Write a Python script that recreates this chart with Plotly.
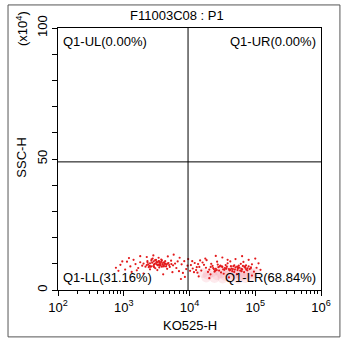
import plotly.graph_objects as go

# ---- data (KO525-H raw values, SSC-H in units of 10^4) ----
ll_x = [2240, 2510, 2820, 3160, 2400, 3550, 3980, 2630, 3020, 3310,
        3800, 4270, 2000, 2140, 2950, 3720, 4470, 4790, 5010, 2750,
        2290, 1910, 1780, 3390, 4070, 5250, 5620, 2510, 3240, 4570,
        1660, 1510, 6030, 6310, 2880, 3630, 2450, 4170, 3470, 3090,
        760, 890, 1050, 1120, 1260, 1320, 1410, 1580, 1200, 950,
        6920, 7590, 8320, 8910, 7080, 7940, 9330, 6610, 5500, 2000,
        3980, 2820, 4680, 8510, 7410, 5750, 2240, 830, 1780, 9550,
        2700, 2950, 3250, 3550, 3900, 4300, 2600, 3100, 3400, 3700,
        4000, 4400, 2850, 3350, 3650, 4150, 2350, 3000, 3500, 4600,
        2550, 3200, 3800, 4900, 2300, 2900, 3450, 4050, 5300, 2650]
ll_y = [9.5, 10.2, 9.1, 10.8, 8.7, 9.8, 10.5, 11.2, 8.3, 9.4,
        8.9, 11.0, 10.1, 8.9, 10.0, 11.6, 9.6, 10.3, 8.8, 12.0,
        11.0, 9.3, 10.6, 12.3, 9.0, 11.2, 9.4, 7.9, 7.6, 8.1,
        8.4, 9.9, 10.1, 8.4, 9.6, 10.2, 9.2, 10.0, 8.6, 11.5,
        8.5, 9.6, 7.8, 10.8, 9.0, 6.9, 11.5, 7.5, 12.2, 10.9,
        7.2, 9.8, 11.0, 8.0, 12.3, 6.5, 9.3, 10.9, 6.8, 6.3,
        6.0, 13.2, 12.8, 5.0, 4.2, 13.5, 12.6, 7.3, 12.9, 11.8,
        10.4, 9.9, 10.6, 9.3, 9.9, 10.0, 9.0, 10.3, 11.0, 10.7,
        9.2, 9.0, 10.9, 9.7, 9.5, 10.6, 9.8, 11.4, 10.4, 10.1,
        8.9, 9.7, 11.3, 9.5, 10.5, 8.7, 10.9, 9.4, 9.9, 11.7]

lr_x = [17800, 20000, 22400, 25100, 28200, 31600, 35500, 39800, 44700, 50100,
        56200, 63100, 70800, 79400, 19100, 21400, 24000, 26900, 30200, 33900,
        38000, 42700, 47900, 53700, 60300, 67600, 75900, 85100, 16600, 15100,
        14100, 13200, 15800, 89100, 95500, 104700, 22900, 28800, 36300, 45700,
        57500, 72400, 26300, 41700, 66100, 33100, 52500, 20900,
        10500, 11200, 12000, 12600, 11000, 11700, 13500, 14500, 10200, 12900,
        17400, 31600, 50100, 79400, 112200, 120200, 39800, 20000, 89100, 25100,
        63100, 13800, 100000, 38000, 18200,
        23500, 27500, 32500, 37000, 43500, 49000, 55000, 61500, 68500, 76000,
        24500, 29500, 34500, 40500, 46500, 53000, 59000, 65000, 73000, 82000,
        21000, 26000, 31000, 36000, 42000, 48000, 54500, 62000, 70000, 86000]
lr_y = [8.5, 7.8, 9.2, 8.1, 7.4, 8.8, 9.5, 8.0, 7.2, 8.6,
        9.3, 7.9, 8.4, 9.0, 6.9, 10.0, 7.0, 9.7, 6.7, 7.7,
        10.2, 9.1, 6.9, 7.6, 10.0, 6.8, 7.5, 8.2, 9.6, 7.4,
        8.8, 6.6, 10.5, 9.8, 7.0, 8.5, 8.4, 9.0, 8.3, 8.0,
        8.5, 9.4, 10.8, 10.9, 10.7, 6.2, 6.1, 6.0,
        9.5, 8.2, 10.3, 7.6, 11.0, 6.8, 9.9, 11.3, 7.3, 8.7,
        12.0, 12.4, 11.8, 11.5, 10.2, 7.7, 4.8, 4.5, 5.5, 13.0,
        12.9, 5.2, 12.0, 11.5, 11.4,
        8.0, 8.7, 7.9, 8.9, 8.2, 7.8, 8.6, 8.1, 8.8, 8.3,
        7.3, 9.3, 8.4, 7.5, 9.1, 8.9, 7.4, 9.2, 7.8, 8.0,
        8.8, 7.6, 9.0, 8.1, 7.7, 9.4, 8.2, 7.2, 9.0, 8.6]

# density haze under the LR population
haze_x = [16000, 19000, 22000, 26000, 30000, 35000, 40000, 46000, 52000, 60000,
          68000, 78000, 90000, 100000, 18000, 24000, 32000, 42000, 55000, 70000,
          85000, 28000, 48000, 65000, 38000]
haze_y = [6.5, 5.8, 6.8, 5.6, 6.3, 5.4, 6.6, 5.7, 6.4, 5.5,
          6.2, 5.9, 6.1, 6.7, 4.8, 4.6, 4.4, 4.5, 4.3, 4.6,
          4.9, 7.4, 7.2, 7.3, 7.6]

x_tickvals = [1e2, 1e3, 1e4, 1e5, 1e6]
x_ticktext = ["10<sup>2</sup>", "10<sup>3</sup>", "10<sup>4</sup>", "10<sup>5</sup>", "10<sup>6</sup>"]
y_tickvals = [0, 10, 20, 30, 40, 50, 60, 70, 80, 90, 100]
y_ticktext = ["0", "", "", "", "", "50", "", "", "", "", "100"]

quad_x = 9500
quad_y = 48.9
quad_labels = ["Q1-UL(0.00%)", "Q1-UR(0.00%)", "Q1-LL(31.16%)", "Q1-LR(68.84%)"]
title_text = "F11003C08 : P1"
x_title = "KO525-H"
y_title = "SSC-H"
y_unit = "(x10<sup>4</sup>)"

FONT = "Liberation Sans, Arial, sans-serif"
RED = "#e31a1c"

fig = go.Figure()
fig.add_trace(go.Scatter(x=haze_x, y=haze_y, mode="markers",
                         marker=dict(size=10, color="rgba(245,160,172,0.22)", line=dict(width=0)),
                         hoverinfo="skip", showlegend=False))
fig.add_trace(go.Scatter(x=ll_x, y=ll_y, mode="markers",
                         marker=dict(size=2.2, color=RED, line=dict(width=0)), showlegend=False))
fig.add_trace(go.Scatter(x=lr_x, y=lr_y, mode="markers",
                         marker=dict(size=2.2, color=RED, line=dict(width=0)), showlegend=False))

# quadrant lines
fig.add_shape(type="line", xref="x", yref="y", x0=quad_x, x1=quad_x, y0=0, y1=100,
              line=dict(color="black", width=1))
fig.add_shape(type="line", xref="x", yref="y", x0=100, x1=1e6, y0=quad_y, y1=quad_y,
              line=dict(color="black", width=1))
# outer frame
fig.add_shape(type="rect", xref="paper", yref="paper", x0=-0.190, x1=1.072, y0=-0.179, y1=1.088,
              line=dict(color="#555555", width=1), layer="above")

ann_font = dict(family=FONT, size=13, color="black")
fig.add_annotation(text=quad_labels[0], xref="paper", yref="paper", x=0.012, y=0.947,
                   xanchor="left", yanchor="middle", showarrow=False, font=ann_font)
fig.add_annotation(text=quad_labels[1], xref="paper", yref="paper", x=0.988, y=0.947,
                   xanchor="right", yanchor="middle", showarrow=False, font=ann_font)
fig.add_annotation(text=quad_labels[2], xref="paper", yref="paper", x=0.012, y=0.046,
                   xanchor="left", yanchor="middle", showarrow=False, font=ann_font)
fig.add_annotation(text=quad_labels[3], xref="paper", yref="paper", x=0.988, y=0.046,
                   xanchor="right", yanchor="middle", showarrow=False, font=ann_font)
fig.add_annotation(text=title_text, xref="paper", yref="paper", x=0.452, y=1.046,
                   xanchor="center", yanchor="middle", showarrow=False, font=ann_font)
fig.add_annotation(text=x_title, xref="paper", yref="paper", x=0.502, y=-0.134,
                   xanchor="center", yanchor="middle", showarrow=False, font=ann_font)
fig.add_annotation(text=y_title, xref="paper", yref="paper", x=-0.137, y=0.505,
                   xanchor="center", yanchor="middle", textangle=-90, showarrow=False, font=ann_font)
fig.add_annotation(text=y_unit, xref="paper", yref="paper", x=-0.137, y=1.0,
                   xanchor="center", yanchor="middle", textangle=-90, showarrow=False, font=ann_font)

fig.update_layout(
    width=345, height=342,
    margin=dict(l=58, r=24, t=28, b=52),
    paper_bgcolor="white", plot_bgcolor="white",
    font=dict(family=FONT, size=13, color="black"),
    xaxis=dict(type="log", range=[2, 6], tickvals=x_tickvals, ticktext=x_ticktext,
               showgrid=False, zeroline=False, showline=True, linecolor="black", linewidth=1,
               mirror=True, ticks="outside", ticklen=5, tickcolor="black",
               minor=dict(ticks="outside", ticklen=3, tickcolor="black", dtick="D1", showgrid=False),
               tickfont=dict(family=FONT, size=13)),
    yaxis=dict(range=[0, 100], tickvals=y_tickvals, ticktext=y_ticktext, tickangle=-90,
               showgrid=False, zeroline=False, showline=True, linecolor="black", linewidth=1,
               mirror=True, ticks="outside", ticklen=5, tickcolor="black",
               tickfont=dict(family=FONT, size=13)),
)

fig.write_html("out.html", config={"displayModeBar": False},
               post_script="document.body.style.margin='0';document.body.style.overflow='hidden';")
